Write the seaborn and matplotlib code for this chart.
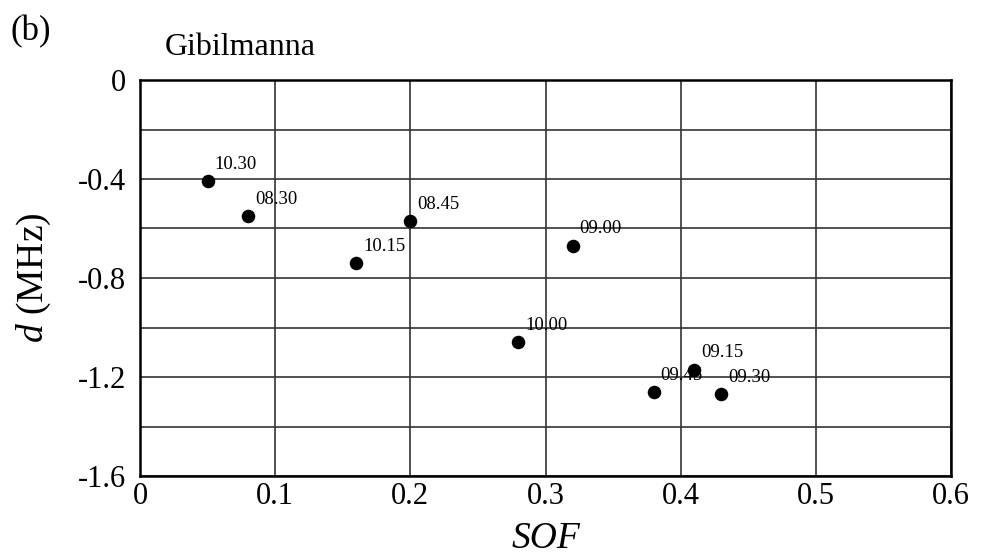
import matplotlib
matplotlib.use("Agg")
import matplotlib.pyplot as plt
import seaborn as sns
import pandas as pd
from matplotlib.ticker import MultipleLocator

sof = [0.05, 0.08, 0.16, 0.20, 0.32, 0.28, 0.41, 0.38, 0.43]
d_mhz = [-0.41, -0.55, -0.74, -0.57, -0.67, -1.06, -1.17, -1.26, -1.27]
times = ["10.30", "08.30", "10.15", "08.45", "09.00", "10.00", "09.15", "09.45", "09.30"]
x_ticks = [0, 0.1, 0.2, 0.3, 0.4, 0.5, 0.6]
y_ticks = [0, -0.4, -0.8, -1.2, -1.6]

df = pd.DataFrame({"SOF": sof, "d": d_mhz, "time": times})

sns.set_style("white")
plt.rcParams['font.family'] = ['Liberation Serif', 'DejaVu Serif']
plt.rcParams['mathtext.fontset'] = 'custom'
plt.rcParams['mathtext.it'] = 'Liberation Serif:italic'
plt.rcParams['mathtext.rm'] = 'Liberation Serif'
plt.rcParams['text.color'] = 'black'
plt.rcParams['axes.labelcolor'] = 'black'
plt.rcParams['xtick.color'] = 'black'
plt.rcParams['ytick.color'] = 'black'

fig = plt.figure(figsize=(9.81, 5.56), dpi=100)
ax = fig.add_axes([140/981, 1-476/556, (951-140)/981, (476-80)/556])

sns.scatterplot(data=df, x="SOF", y="d", ax=ax, color="black", s=95,
                edgecolor="black", linewidth=0, zorder=5, legend=False)

for xv, yv, t in zip(sof, d_mhz, times):
    ax.annotate(t, (xv, yv), xytext=(5, 6), textcoords="offset points",
                fontsize=13.5, ha="left", va="bottom", color="black", zorder=6)

ax.set_xlim(0, 0.6)
ax.set_ylim(-1.6, 0)
ax.set_xticks(x_ticks)
ax.set_xticklabels([f"{v:g}" for v in x_ticks], fontsize=22)
ax.set_yticks(y_ticks)
ax.set_yticklabels([f"{v:g}" for v in y_ticks], fontsize=22)
ax.yaxis.set_minor_locator(MultipleLocator(0.2))
ax.grid(True, which="both", axis="both", color="#333333", linewidth=1.2)
ax.tick_params(axis="both", which="both", length=0)
ax.tick_params(axis="y", pad=10)
ax.tick_params(axis="x", pad=4)
for sp in ax.spines.values():
    sp.set_color("black")
    sp.set_linewidth(1.8)
    sp.set_zorder(10)

ax.set_xlabel("SOF", fontsize=27, fontstyle="italic", labelpad=8)
ax.set_ylabel(r"$d$ (MHz)", fontsize=27, labelpad=18)

fig.text(10/981, 1-40/556, "(b)", fontsize=25, ha="left", va="baseline")
fig.text(165/981, 1-55/556, "Gibilmanna", fontsize=23, ha="left", va="baseline")

fig.savefig("out.png", dpi=100)
